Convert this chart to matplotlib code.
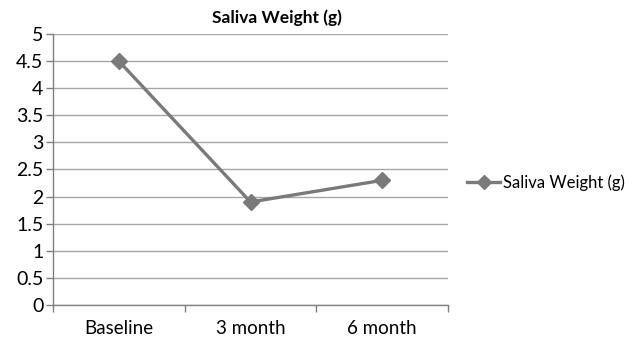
import matplotlib
matplotlib.use("Agg")
import matplotlib.pyplot as plt
from matplotlib.ticker import FixedLocator, NullFormatter

plt.rcParams['font.family'] = ['Lato', 'DejaVu Sans']

categories = ["Baseline", "3 month", "6 month"]
saliva_weight = [4.5, 1.9, 2.3]
y_ticks = [0, 0.5, 1, 1.5, 2, 2.5, 3, 3.5, 4, 4.5, 5]
y_tick_labels = ["0", "0.5", "1", "1.5", "2", "2.5", "3", "3.5", "4", "4.5", "5"]
series_name = "Saliva Weight (g)"

fig = plt.figure(figsize=(6.32, 3.41), dpi=100)
ax = fig.add_axes([0.0839, 0.1056, 0.625, 0.7947])

x = list(range(len(categories)))
ax.plot(x, saliva_weight, color="#7a7a7a", linewidth=2.4, marker="D",
        markersize=8.5, markerfacecolor="#7a7a7a", markeredgecolor="#7a7a7a",
        label=series_name, zorder=3)

ax.set_ylim(0, 5)
ax.set_yticks(y_ticks)
ax.set_yticklabels(y_tick_labels, fontsize=14)
ax.set_xlim(-0.5, len(categories) - 0.5)
ax.set_xticks(x)
ax.set_xticklabels(categories, fontsize=13.5)
ax.tick_params(axis="x", which="major", length=0, pad=11)
ax.xaxis.set_minor_locator(FixedLocator([i - 0.5 for i in range(len(categories) + 1)]))
ax.xaxis.set_minor_formatter(NullFormatter())
ax.tick_params(axis="x", which="minor", length=5, color="#808080", width=1)
ax.tick_params(axis="y", length=5, color="#808080", width=1, pad=2)

ax.grid(axis="y", color="#a6a6a6", linewidth=1)
ax.set_axisbelow(True)
for side in ("top", "right"):
    ax.spines[side].set_visible(False)
for side in ("left", "bottom"):
    ax.spines[side].set_color("#808080")
    ax.spines[side].set_linewidth(1)

fig.text(0.438, 0.948, series_name, ha="center", va="center",
         fontsize=12.5, fontweight="bold")

ax.legend(loc="center left", bbox_to_anchor=(1.01, 0.45), frameon=False,
          fontsize=12, handlelength=2.0, handletextpad=0.15,
          markerscale=0.8)

fig.savefig("out.png", dpi=100)
